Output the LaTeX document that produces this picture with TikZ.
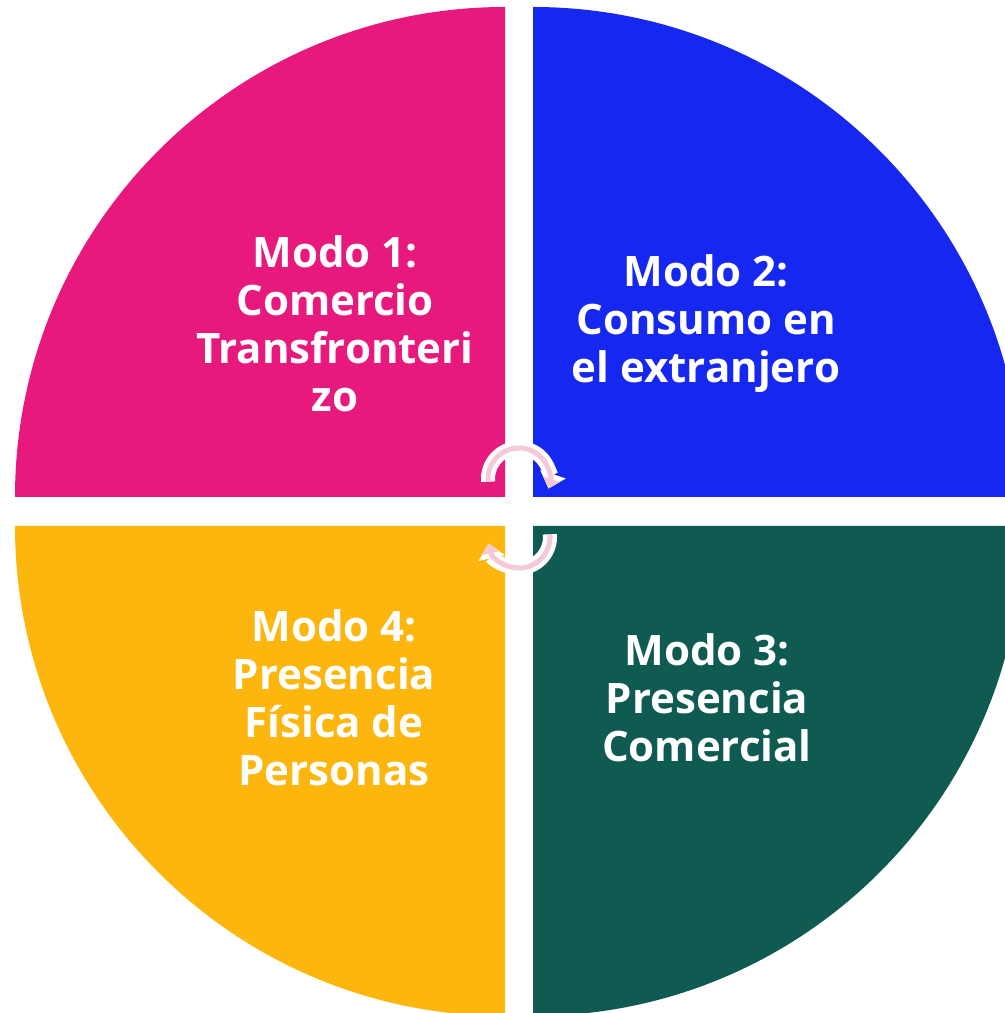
\documentclass[tikz,border=0pt]{standalone}
\usepackage{fontspec}
\setmainfont{Open Sans}
\usetikzlibrary{arrows.meta}
\definecolor{MPink}{HTML}{E8197D}
\definecolor{MBlue}{HTML}{1627F0}
\definecolor{MGreen}{HTML}{0F5B52}
\definecolor{MGold}{HTML}{FDB60D}
\definecolor{MRose}{HTML}{F5CAD6}
\tikzset{
    modetext/.style = {text=white, align=center,
        font=\fontsize{21}{24}\selectfont\bfseries},
    cyclearrow/.style = {draw=MRose, line width=2.5pt,
        -{Triangle[length=5pt,width=8.5pt]},
        preaction={draw=white, line width=7pt, -{Triangle[length=7.5pt,width=13pt]}}}
}

\begin{document}
\begin{tikzpicture}[x=0.5pt,y=0.5pt]
    \useasboundingbox (0,0) rectangle (1005,1013);
    \clip (0,0) rectangle (1005,1013);
    % quadrants
    \fill[MPink] (505,516) -- (15,516) arc[start angle=180,end angle=90,radius=490] -- cycle;
    \fill[MBlue] (533,516) -- (533,1006) arc[start angle=90,end angle=0,radius=490] -- cycle;
    \fill[MGreen] (533,487) -- (1023,487) arc[start angle=0,end angle=-90,radius=490] -- cycle;
    \fill[MGold] (505,487) -- (505,-3) arc[start angle=-90,end angle=-180,radius=490] -- cycle;
    % cycle arrows
    \draw[cyclearrow] (488.1,531.3) arc[start angle=185,end angle=-18,radius=31];
    \draw[cyclearrow] (549.9,478.7) arc[start angle=5,end angle=-168,radius=31];
    % labels
    \node[modetext] (m1) at (335,689) {Modo 1:\\Comercio\\Transfronteri\\zo};
    \node[modetext] (m2) at (706,689) {Modo 2:\\Consumo en\\el extranjero};
    \node[modetext] (m3) at (707,315) {Modo 3:\\Presencia\\Comercial};
    \node[modetext] (m4) at (334,315) {Modo 4:\\Presencia\\Física de\\Personas};
\end{tikzpicture}
\end{document}
